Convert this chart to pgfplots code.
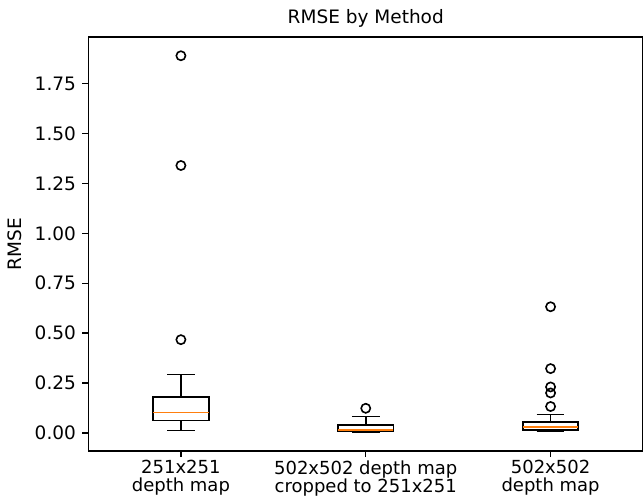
\documentclass[border=0pt]{standalone}
\usepackage{pgfplots}
\pgfplotsset{compat=1.18}
\usepgfplotslibrary{statistics}
\usepackage{fontspec}
\setmainfont{DejaVu Sans}
\definecolor{mplorange}{HTML}{FF7F0E}
\begin{document}
\fontsize{18.5pt}{21pt}\selectfont
\begin{tikzpicture}
\begin{axis}[
  scale only axis,
  width=554.5pt, height=414pt,
  xmin=0.5, xmax=3.5,
  ymin=-0.091, ymax=1.984,
  xtick={1,2,3},
  xticklabels={{251x251\\depth map},{502x502 depth map\\cropped to 251x251},{502x502\\depth map}},
  xticklabel style={align=center, yshift=3pt, font=\fontsize{18pt}{18pt}\selectfont},
  ytick={0,0.25,0.5,0.75,1,1.25,1.5,1.75},
  yticklabel style={/pgf/number format/fixed, /pgf/number format/fixed zerofill, /pgf/number format/precision=2, font=\fontsize{18.5pt}{21pt}\selectfont},
  /pgf/number format/assume math mode=true,
  tick align=outside,
  tick pos=left,
  major tick length=6.2pt,
  every tick/.style={black, line width=1.4pt},
  axis line style={line width=1.4pt},
  ylabel={RMSE},
  ylabel style={font=\fontsize{18.5pt}{21pt}\selectfont},
  title={RMSE by Method},
  title style={font=\fontsize{18.5pt}{21pt}\selectfont, yshift=-3pt},
  boxplot/draw direction=y,
  boxplot/every median/.style={draw=mplorange, line width=1.8pt},
  boxplot/every box/.style={draw=black, line width=1.8pt},
  boxplot/every whisker/.style={draw=black, line width=1.8pt},
  clip=false,
]
\addplot[black, line width=1.8pt, mark=o, mark size=4.6pt, mark options={line width=1.6pt, black},
  boxplot/draw direction=y,
  boxplot prepared={lower whisker=0.012, lower quartile=0.062, median=0.102, upper quartile=0.180, upper whisker=0.292, draw position=1, box extend=0.3, whisker extend=0.15}]
  table[row sep=\\, y index=0] {v\\ 1.89\\ 1.34\\ 0.467\\};
\addplot[black, line width=1.8pt, mark=o, mark size=4.6pt, mark options={line width=1.6pt, black},
  boxplot/draw direction=y,
  boxplot prepared={lower whisker=0.004, lower quartile=0.009, median=0.016, upper quartile=0.040, upper whisker=0.082, draw position=2, box extend=0.3, whisker extend=0.15}]
  table[row sep=\\, y index=0] {v\\ 0.123\\};
\addplot[black, line width=1.8pt, mark=o, mark size=4.6pt, mark options={line width=1.6pt, black},
  boxplot/draw direction=y,
  boxplot prepared={lower whisker=0.007, lower quartile=0.014, median=0.028, upper quartile=0.056, upper whisker=0.092, draw position=3, box extend=0.3, whisker extend=0.15}]
  table[row sep=\\, y index=0] {v\\ 0.632\\ 0.322\\ 0.230\\ 0.200\\ 0.132\\};
\end{axis}
\pgfresetboundingbox
\useasboundingbox ([xshift=-88.5pt,yshift=-46pt]current axis.south west) rectangle ([yshift=37pt]current axis.north east);
\end{tikzpicture}
\end{document}
